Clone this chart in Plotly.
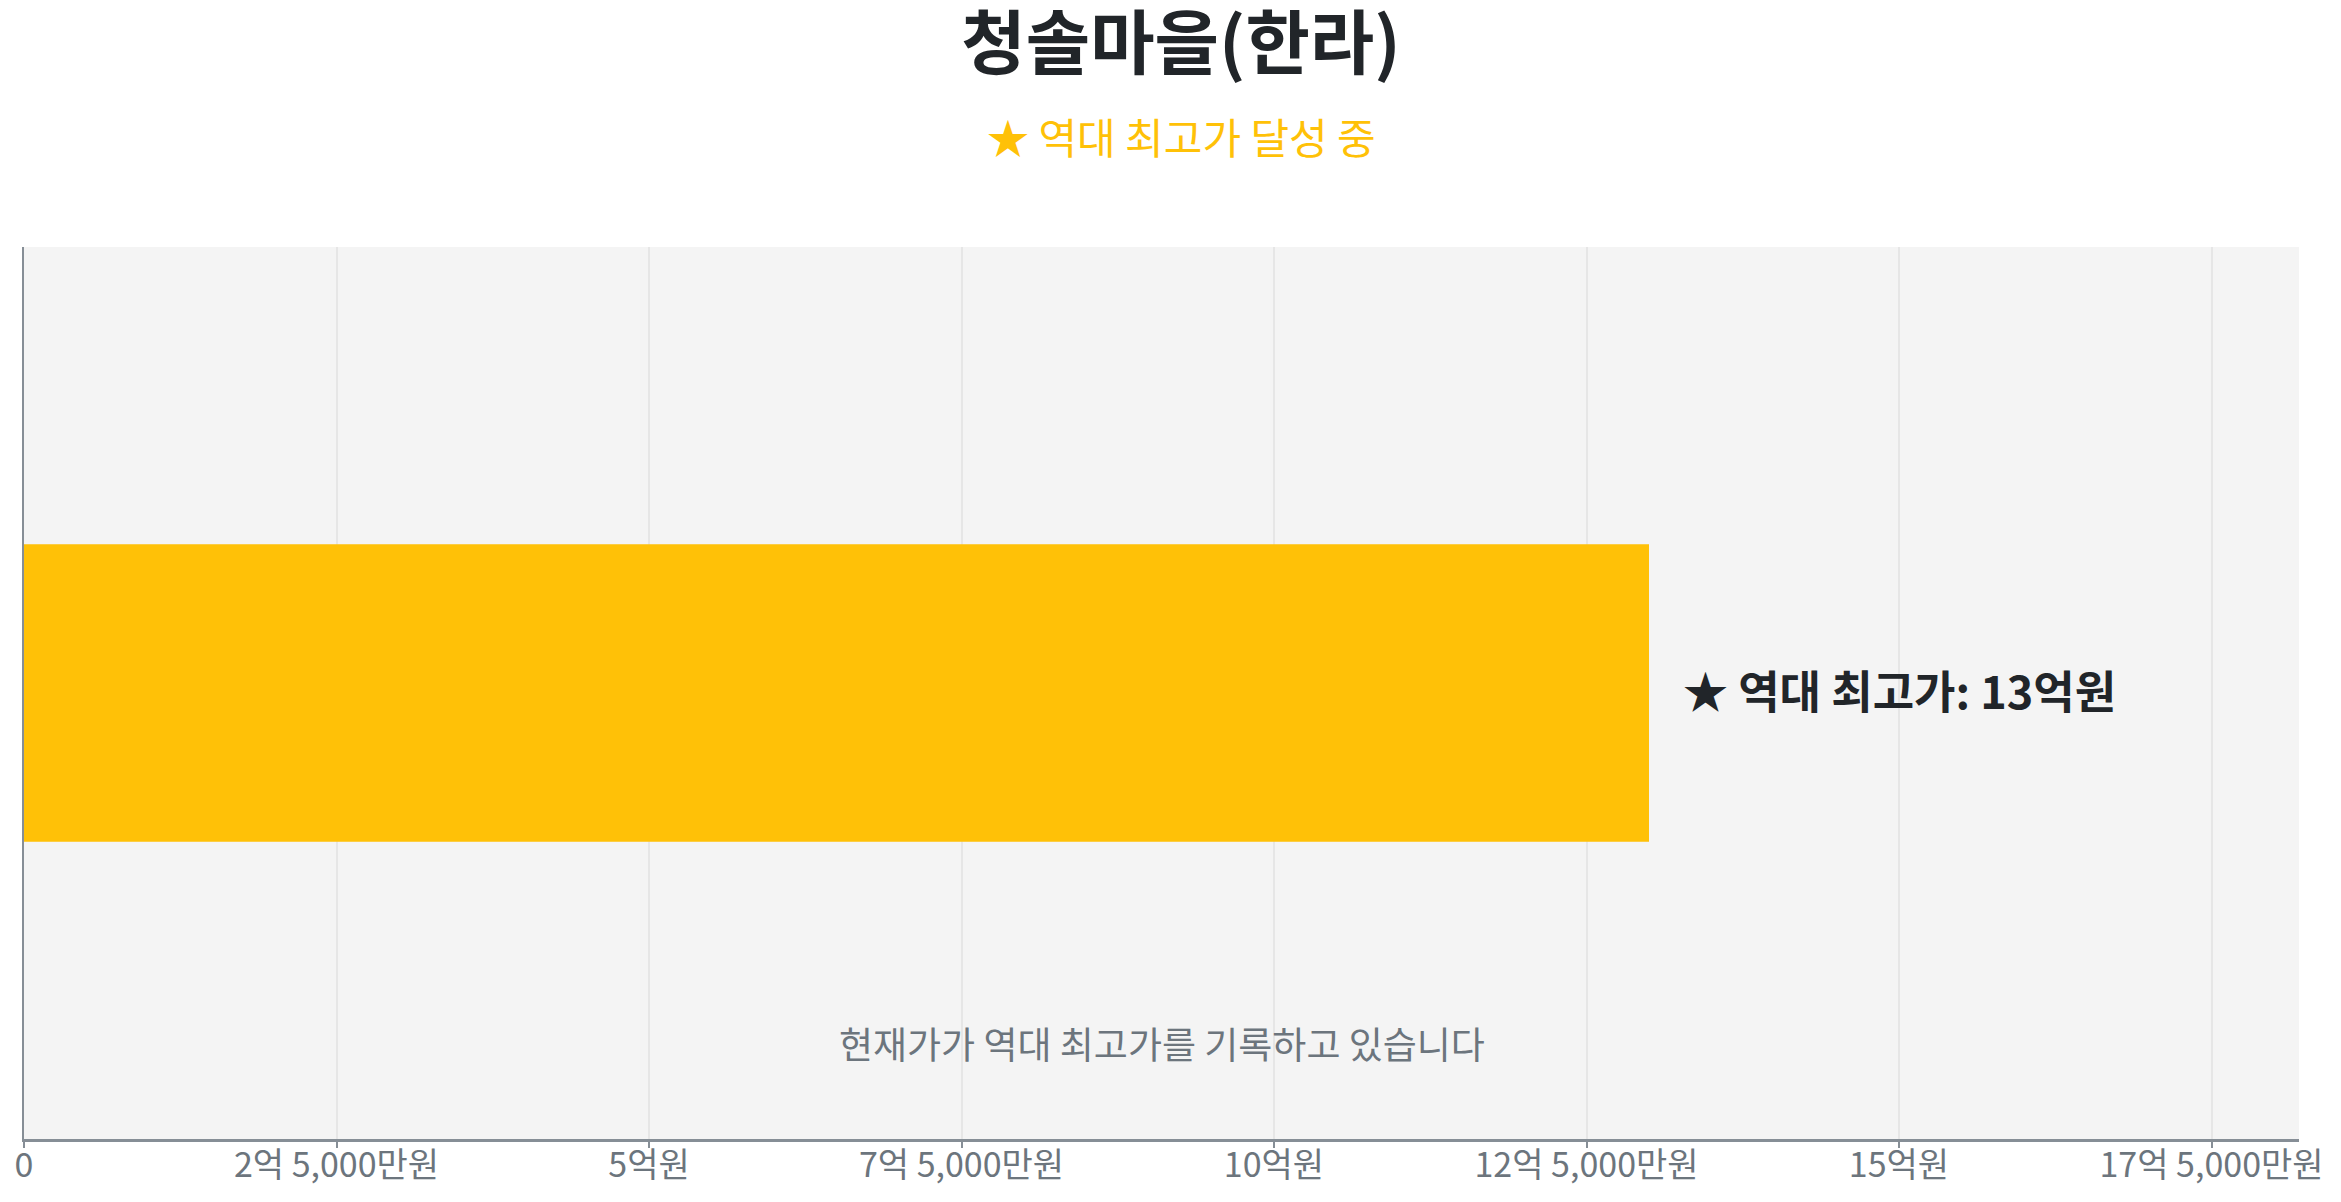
import plotly.graph_objects as go

# data
apt_name = "청솔마을(한라)"
categories = [""]
record_price = [1300000000]  # 원
record_label = "★ 역대 최고가: 13억원"
subtitle = "★ 역대 최고가 달성 중"
note = "현재가가 역대 최고가를 기록하고 있습니다"
tick_vals = [0, 250000000, 500000000, 750000000, 1000000000,
             1250000000, 1500000000, 1750000000]
tick_text = ["0", "2억 5,000만원", "5억원", "7억 5,000만원", "10억원",
             "12억 5,000만원", "15억원", "17억 5,000만원"]

FONT = "Noto Sans CJK KR"
DARK = "#212529"
GOLD = "#ffc107"
GREY = "#6c757d"
AXIS = "#868e96"

# page body has an 8px margin, so the figure is a bit smaller than the window
W, H = 2325, 1186
TOP, BOT, LEFT, RIGHT = 239, 55, 16, 34
plot_w = W - LEFT - RIGHT
plot_h = H - TOP - BOT
head_x = 1173 / W  # heading is centred a little right of the page centre

fig = go.Figure(go.Bar(
    x=record_price,
    y=[0],
    orientation="h",
    width=1,
    marker=dict(color=GOLD, line_width=0),
    hoverinfo="skip",
))

fig.update_layout(
    width=W, height=H,
    margin=dict(l=LEFT, r=RIGHT, t=TOP, b=BOT),
    paper_bgcolor="white",
    plot_bgcolor="#f4f4f4",
    showlegend=False,
    font=dict(family=FONT, color=GREY),
    title=dict(text="<b>" + apt_name + "</b>", x=head_x, xanchor="center",
               y=1 - 36 / H, yref="container", yanchor="middle",
               font=dict(size=70, color=DARK, family=FONT)),
)

fig.update_xaxes(
    range=[0, record_price[0] * 1.4],
    tickvals=tick_vals, ticktext=tick_text,
    tickfont=dict(size=34, color=GREY, family=FONT),
    showgrid=True, gridcolor="#e6e6e6", gridwidth=1.5,
    showline=True, linecolor=AXIS, linewidth=2.5,
    ticks="outside", ticklen=6, tickcolor=AXIS, tickwidth=1.5,
    ticklabelstandoff=-12,
    zeroline=False, automargin=False,
)
fig.update_yaxes(
    range=[-1.5, 1.5],
    showticklabels=False, showgrid=False, zeroline=False,
    showline=True, linecolor=AXIS, linewidth=2, automargin=False,
)

# subtitle
fig.add_annotation(text=subtitle, xref="paper", yref="paper",
                   x=(head_x * W - LEFT) / plot_w, y=1 + 112 / plot_h,
                   xanchor="center", yanchor="middle",
                   showarrow=False, font=dict(size=42, color=GOLD, family=FONT))
# label next to the bar
fig.add_annotation(text="<b>" + record_label + "</b>", x=record_price[0], y=0,
                   xanchor="left", yanchor="middle", xshift=32, yshift=4,
                   showarrow=False, font=dict(size=45, color=DARK, family=FONT))
# note inside plot
fig.add_annotation(text=note, xref="paper", yref="paper", x=0.5, y=0.108,
                   xanchor="center", yanchor="middle", showarrow=False,
                   font=dict(size=37, color=GREY, family=FONT))

fig.write_html("out.html")
